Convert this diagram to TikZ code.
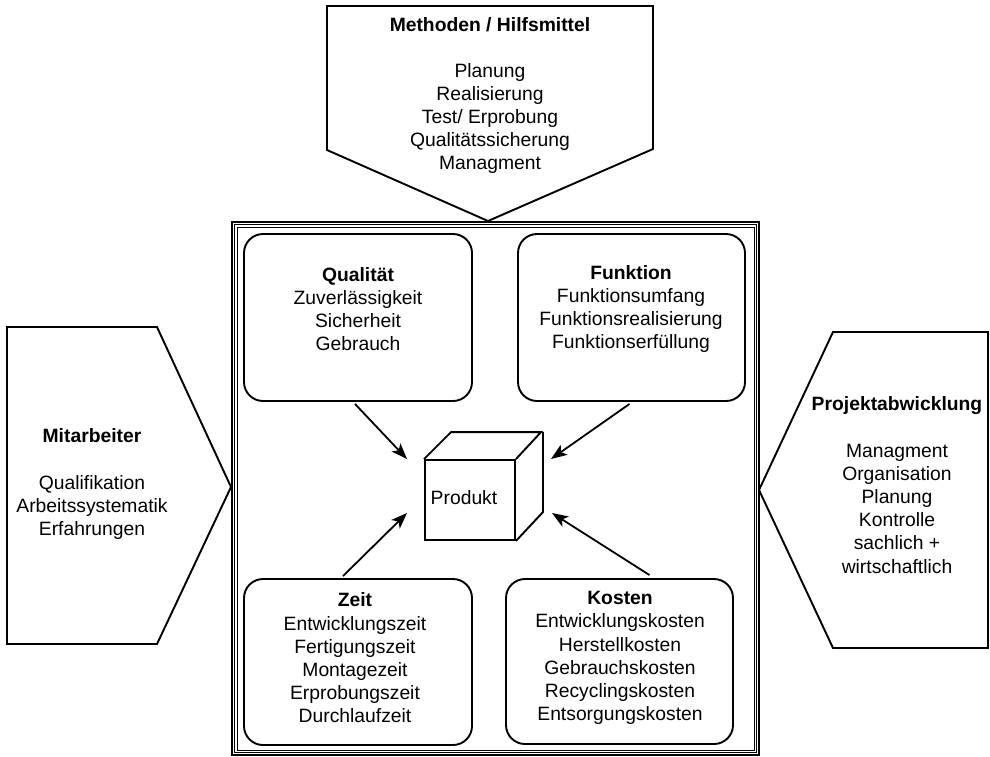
\documentclass[tikz,border=0pt]{standalone}
\usepackage{fontspec}
\setmainfont{Liberation Sans}
\usetikzlibrary{arrows.meta}
\begin{document}
\begin{tikzpicture}[x=1pt,y=-1pt,line join=miter,
  pent/.style={draw=black,line width=1.9pt},
  rbox/.style={draw=black,line width=1.9pt,rounded corners=19pt,inner sep=0pt},
  frameline/.style={draw=black,line width=1pt},
  txt/.style={align=center,font=\fontsize{19.3}{23.2}\selectfont,inner sep=0pt},
  arr/.style={line width=1.8pt,-{Stealth[length=16pt,width=12pt,inset=4pt]}},
  cubeline/.style={draw=black,line width=1.9pt}]
\useasboundingbox (0,0) rectangle (990,756);

% outer frame (triple line)
\draw[frameline,line width=1.4pt] (232,222) rectangle (759,755);
\draw[frameline,line width=1pt] (234.5,224.5) rectangle (756.5,752.8);
\draw[frameline,line width=1pt] (237,227) rectangle (754,750.5);

% top pentagon
\draw[pent] (327,6) -- (653,6) -- (653,149) -- (488,221) -- (327,150) -- cycle;
\node[txt] (meth) at (490,96) {\textbf{Methoden / Hilfsmittel}\\[22pt]
  Planung\\Realisierung\\Test/ Erprobung\\Qualitätssicherung\\Managment};

% left pentagon
\draw[pent] (7,327) -- (157,327) -- (231,487) -- (157,644) -- (7,644) -- cycle;
\node[txt] (mit) at (92,484) {\textbf{Mitarbeiter}\\[23.2pt]
  Qualifikation\\Arbeitssystematik\\Erfahrungen};

% right pentagon
\draw[pent] (833,332) -- (988,332) -- (988,648) -- (833,648) -- (759,490) -- cycle;
\node[txt] (proj) at (897,485) {\textbf{Projektabwicklung}\\[23.2pt]
  Managment\\Organisation\\Planung\\Kontrolle\\sachlich +\\wirtschaftlich};

% rounded boxes
\node[rbox,minimum width=228pt,minimum height=167pt] (qual) at (358,317.5) {};
\node[txt] (qualt) at (358,309) {\textbf{Qualität}\\Zuverlässigkeit\\Sicherheit\\Gebrauch};

\node[rbox,minimum width=227pt,minimum height=167pt] (funk) at (631.5,317.5) {};
\node[txt] (funkt) at (631,309) {\textbf{Funktion}\\Funktionsumfang\\Funktionsrealisierung\\Funktionserfüllung};

\node[rbox,minimum width=228pt,minimum height=166pt] (zeit) at (358,662) {};
\node[txt] (zeitt) at (355,658) {\textbf{Zeit}\\Entwicklungszeit\\Fertigungszeit\\Montagezeit\\Erprobungszeit\\Durchlaufzeit};

\node[rbox,minimum width=227pt,minimum height=165pt] (kost) at (619.5,661.5) {};
\node[txt] (kostt) at (620,658) {\textbf{Kosten}\\Entwicklungskosten\\Herstellkosten\\Gebrauchskosten\\Recyclingskosten\\Entsorgungskosten};

% product cube
\node[draw=black,line width=1.9pt,minimum width=90pt,minimum height=80pt,inner sep=0pt] (prod) at (470,500) {};
\draw[cubeline] (prod.north west) -- ++(27,-27) -- ++(90,0) -- (prod.north east);
\draw[cubeline] ([shift={(27,-27)}]prod.north east) -- ++(0,80) -- (prod.south east);
\node[txt] (prodt) at (464,498) {Produkt};

% arrow targets
\coordinate (aq) at (407,459);
\coordinate (af) at (551,459);
\coordinate (az) at (407,513);
\coordinate (ak) at (552,513);

\draw[arr] ([xshift=-3pt,yshift=-2pt]qual.south) -- (aq);
\draw[arr] ([xshift=-2pt,yshift=-2pt]funk.south) -- (af);
\draw[arr] ([xshift=-15pt,yshift=2pt]zeit.north) -- (az);
\draw[arr] ([xshift=30pt,yshift=3pt]kost.north) -- (ak);
\end{tikzpicture}
\end{document}
